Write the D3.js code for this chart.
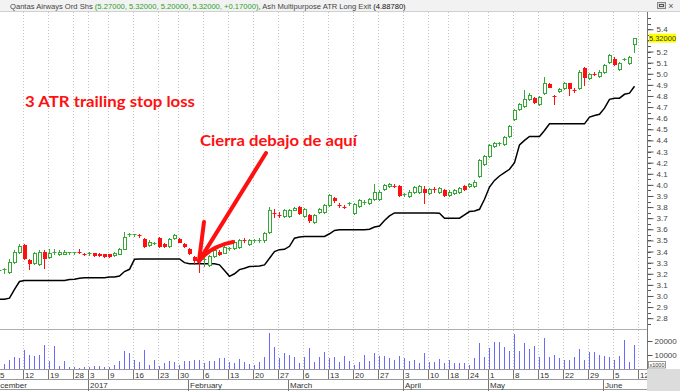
<!DOCTYPE html>
<html>
<head>
<meta charset="utf-8">
<script src="https://cdn.jsdelivr.net/npm/d3@7"></script>
<style>
  body { margin: 0; background: #fff; }
  svg { display: block; font-family: "Liberation Sans", Arial, sans-serif; }
</style>
</head>
<body>
<div id="chart"></div>
<script>
// trading days shown on the chart
const dates = [
  "2016-12-05","2016-12-06","2016-12-07","2016-12-08","2016-12-09","2016-12-12","2016-12-13","2016-12-14","2016-12-15","2016-12-16",
  "2016-12-19","2016-12-20","2016-12-21","2016-12-22","2016-12-23","2016-12-28","2016-12-29","2016-12-30",
  "2017-01-03","2017-01-04","2017-01-05","2017-01-06","2017-01-09","2017-01-10","2017-01-11","2017-01-12","2017-01-13",
  "2017-01-16","2017-01-17","2017-01-18","2017-01-19","2017-01-20","2017-01-23","2017-01-24","2017-01-25","2017-01-27","2017-01-30","2017-01-31",
  "2017-02-01","2017-02-02","2017-02-03","2017-02-06","2017-02-07","2017-02-08","2017-02-09","2017-02-10","2017-02-13","2017-02-14",
  "2017-02-15","2017-02-16","2017-02-17","2017-02-20","2017-02-21","2017-02-22","2017-02-23","2017-02-24","2017-02-27","2017-02-28",
  "2017-03-01","2017-03-02","2017-03-03","2017-03-06","2017-03-07","2017-03-08","2017-03-09","2017-03-10","2017-03-13","2017-03-14",
  "2017-03-15","2017-03-16","2017-03-17","2017-03-20","2017-03-21","2017-03-22","2017-03-23","2017-03-24","2017-03-27","2017-03-28",
  "2017-03-29","2017-03-30","2017-03-31","2017-04-03","2017-04-04","2017-04-05","2017-04-06","2017-04-07","2017-04-10","2017-04-11",
  "2017-04-12","2017-04-13","2017-04-18","2017-04-19","2017-04-20","2017-04-21","2017-04-24","2017-04-26","2017-04-27","2017-04-28",
  "2017-05-01","2017-05-02","2017-05-03","2017-05-04","2017-05-05","2017-05-08","2017-05-09","2017-05-10","2017-05-11","2017-05-12",
  "2017-05-15","2017-05-16","2017-05-17","2017-05-18","2017-05-19","2017-05-22","2017-05-23","2017-05-24","2017-05-25","2017-05-26",
  "2017-05-29","2017-05-30","2017-05-31","2017-06-01","2017-06-02","2017-06-05","2017-06-06","2017-06-07","2017-06-08","2017-06-09"
];

const openP = [3.22,3.23,3.22,3.31,3.40,3.46,3.32,3.30,3.29,3.40, 3.35,3.395,3.38,3.38,3.39,3.39,3.41,3.39,
  3.38,3.39,3.38,3.375,3.38,3.37,3.38,3.42,3.55, 3.55,3.555,3.51,3.46,3.475,3.52,3.47,3.45,3.52,3.51,3.47,
  3.42,3.35,3.345,3.32,3.28,3.36,3.40,3.39,3.42,3.43, 3.44,3.505,3.47,3.50,3.50,3.50,3.58,3.755,3.735,3.72,
  3.72,3.775,3.80,3.72,3.73,3.67,3.76,3.76,3.82,3.88, 3.825,3.805,3.83,3.75,3.81,3.84,3.84,3.87,3.87,3.96,
  3.99,4.00,3.99,3.91,3.90,3.94,3.94,3.96,3.93,3.965, 3.94,3.95,3.91,3.93,3.94,3.99,3.99,3.99,4.08,4.19,
  4.26,4.35,4.37,4.37,4.44,4.59,4.68,4.71,4.77,4.78, 4.73,4.83,4.91,4.81,4.845,4.87,4.915,4.86,4.87,5.05,
  4.96,5.005,4.98,5.02,5.11,5.13,5.04,5.125,5.10,5.27];
const highP = [3.25,3.25,3.33,3.41,3.47,3.47,3.33,3.40,3.41,3.41, 3.42,3.42,3.41,3.41,3.40,3.40,3.42,3.39,
  3.40,3.39,3.385,3.38,3.38,3.40,3.43,3.58,3.57, 3.56,3.56,3.52,3.50,3.49,3.53,3.48,3.52,3.56,3.52,3.48,
  3.43,3.36,3.35,3.36,3.37,3.42,3.41,3.45,3.44,3.50, 3.51,3.52,3.51,3.51,3.52,3.58,3.80,3.78,3.76,3.78,
  3.78,3.80,3.81,3.79,3.74,3.74,3.79,3.83,3.92,3.89, 3.84,3.82,3.85,3.84,3.87,3.86,3.88,4.01,3.95,4.01,
  4.02,4.01,4.00,3.93,3.95,3.99,4.00,3.99,3.97,3.98, 3.98,3.96,3.95,3.96,3.98,4.00,4.02,4.04,4.23,4.27,
  4.37,4.39,4.39,4.44,4.54,4.68,4.74,4.85,4.83,4.79, 4.80,4.97,4.92,4.81,4.87,4.93,4.92,4.87,5.03,5.06,
  5.01,5.02,5.03,5.09,5.18,5.15,5.11,5.14,5.16,5.32];
const lowP = [3.20,3.21,3.21,3.30,3.39,3.33,3.24,3.29,3.28,3.25, 3.34,3.38,3.37,3.38,3.38,3.38,3.39,3.37,
  3.37,3.36,3.36,3.355,3.35,3.36,3.38,3.42,3.54, 3.54,3.53,3.44,3.45,3.47,3.44,3.44,3.44,3.51,3.485,3.44,
  3.38,3.29,3.22,3.27,3.27,3.35,3.37,3.39,3.41,3.42, 3.43,3.49,3.46,3.49,3.49,3.49,3.57,3.71,3.71,3.71,
  3.71,3.77,3.74,3.71,3.67,3.66,3.75,3.75,3.81,3.85, 3.80,3.79,3.82,3.74,3.80,3.83,3.83,3.86,3.86,3.95,
  3.98,3.98,3.90,3.90,3.89,3.93,3.93,3.84,3.92,3.94, 3.93,3.90,3.90,3.92,3.93,3.95,3.98,3.98,4.07,4.18,
  4.25,4.34,4.36,4.36,4.43,4.58,4.67,4.70,4.76,4.74, 4.72,4.82,4.88,4.73,4.84,4.86,4.81,4.84,4.86,4.90,
  4.95,4.99,4.97,5.01,5.10,5.08,5.03,5.12,5.09,5.20];
const closeP = [3.23,3.24,3.31,3.40,3.45,3.34,3.30,3.39,3.40,3.34, 3.39,3.40,3.40,3.40,3.395,3.395,3.40,3.38,
  3.39,3.37,3.365,3.36,3.36,3.39,3.42,3.53,3.56, 3.555,3.55,3.45,3.49,3.48,3.45,3.45,3.51,3.55,3.49,3.45,
  3.39,3.32,3.325,3.33,3.36,3.41,3.375,3.44,3.43,3.49, 3.50,3.50,3.50,3.505,3.505,3.57,3.77,3.745,3.73,3.77,
  3.77,3.79,3.75,3.78,3.68,3.73,3.78,3.82,3.91,3.86, 3.82,3.80,3.835,3.83,3.86,3.85,3.87,3.94,3.94,4.00,
  4.01,3.99,3.91,3.92,3.94,3.98,3.99,3.94,3.96,3.96, 3.97,3.91,3.94,3.95,3.97,3.96,4.01,4.03,4.22,4.26,
  4.36,4.38,4.375,4.43,4.53,4.67,4.73,4.77,4.81,4.75, 4.79,4.92,4.885,4.80,4.86,4.92,4.87,4.855,5.02,4.975,
  5.00,5.00,5.02,5.08,5.17,5.09,5.10,5.13,5.15,5.32];
// volume in thousands of shares (axis shows x1000)
const volume = [5000,3600,6400,8600,7800,13600,10000,9300,10000,17400, 5500,16500,2400,5500,1700,1200,800,1700,
  1700,2100,2400,1700,1700,3100,6000,13000,11200, 6400,5200,13600,3100,6700,2400,4300,6000,4800,3100,6000,
  6000,6400,6700,4000,6000,5500,7600,7800,4800,4300, 7100,5200,3600,3100,4800,8800,26000,16000,7600,11200,
  10000,8800,4300,8600,15000,4800,8600,12400,7600,8600, 4800,9500,6000,3100,5200,10200,6000,11500,9000,9000,
  7800,6700,9000,7800,5500,6700,4300,11700,4800,4800, 7100,4000,6400,4300,4000,4000,3100,7800,18300,8800,
  14800,19000,19000,16000,13100,25000,12600,18300,14300,16700, 8300,22000,8300,10000,7600,6700,6400,8800,14300,6700,
  11900,12400,10000,9500,8800,6700,9000,21000,4800,17400];
// Ash Multipurpose ATR Long Exit (3 ATR trailing stop)
const atrStop = [2.97,2.97,2.98,3.06,3.13,3.14,3.14,3.14,3.14,3.14, 3.14,3.14,3.14,3.14,3.148,3.15,3.16,3.165,
  3.165,3.165,3.165,3.165,3.17,3.17,3.18,3.22,3.24, 3.33,3.333,3.333,3.333,3.333,3.333,3.333,3.333,3.333,3.333,3.30,
  3.29,3.29,3.29,3.29,3.29,3.29,3.28,3.23,3.177,3.20, 3.237,3.25,3.265,3.267,3.27,3.28,3.34,3.40,3.417,3.42,
  3.447,3.52,3.531,3.535,3.535,3.535,3.535,3.535,3.56,3.59, 3.595,3.595,3.595,3.595,3.595,3.595,3.60,3.62,3.63,3.68,
  3.72,3.747,3.747,3.747,3.747,3.747,3.747,3.747,3.747,3.747, 3.745,3.70,3.70,3.70,3.70,3.73,3.76,3.765,3.78,3.87,
  3.98,4.04,4.08,4.11,4.14,4.20,4.36,4.40,4.435,4.435, 4.435,4.49,4.549,4.549,4.549,4.549,4.549,4.549,4.549,4.549,
  4.61,4.625,4.635,4.69,4.77,4.78,4.78,4.815,4.825,4.888];

const priceTicks = [2.8,2.9,3.0,3.1,3.2,3.3,3.4,3.5,3.6,3.7,3.8,3.9,4.0,4.1,4.2,4.3,4.4,4.5,4.6,4.7,4.8,4.9,5.0,5.1,5.2,5.3,5.4];
const volumeTicks = [10000, 20000];
const weekTicks = ["2016-12-05","2016-12-12","2016-12-19","2016-12-28","2017-01-03","2017-01-09","2017-01-16","2017-01-23",
  "2017-01-30","2017-02-06","2017-02-13","2017-02-20","2017-02-27","2017-03-06","2017-03-13","2017-03-20","2017-03-27",
  "2017-04-03","2017-04-10","2017-04-18","2017-04-24","2017-05-01","2017-05-08","2017-05-15","2017-05-22","2017-05-29",
  "2017-06-05","2017-06-12"];
const monthStarts = ["2016-12-01","2017-01-03","2017-02-01","2017-03-01","2017-04-03","2017-05-01","2017-06-01"];
const monthNames = ["December","2017","February","March","April","May","June"];

const W = 680, H = 391;
const GREEN = "#35a835", RED = "#ff1010";
const plotRight = 647;
const lastClose = closeP[closeP.length - 1];

const svg = d3.select("#chart").append("svg").attr("width", W).attr("height", H);
svg.append("rect").attr("width", W).attr("height", H).attr("fill", "#fff");

// axis slots include the days before/after the data
const slots = ["2016-12-01", "2016-12-02"].concat(dates, ["2017-06-12"]);
const x = d3.scalePoint().domain(slots).range([-11, 639]);
const y = d3.scaleLinear().domain([2.8, 5.4]).range([318.2, 29.3]);
const yv = d3.scaleLinear().domain([0, 20000]).range([369, 341]);

const bars = dates.map((d, i) => ({ d, o: openP[i], h: highP[i], l: lowP[i], c: closeP[i], v: volume[i], s: atrStop[i] }));

const defs = svg.append("defs");
defs.append("clipPath").attr("id", "clip")
  .append("rect").attr("x", 0).attr("y", 12).attr("width", plotRight).attr("height", 357);
defs.append("clipPath").attr("id", "clipx")
  .append("rect").attr("x", 0).attr("y", 369).attr("width", plotRight).attr("height", 22);

// header
svg.append("rect").attr("x", 0).attr("y", 0).attr("width", W).attr("height", 11).attr("fill", "#f2f2f2");
svg.append("line").attr("x1", 0).attr("x2", W).attr("y1", 11.5).attr("y2", 11.5).attr("stroke", "#d0d0d0");
const title = svg.append("text").attr("x", 10).attr("y", 8.5).attr("font-size", 7.6);
title.append("tspan").attr("fill", "#444").text("Qantas Airways Ord Shs ");
title.append("tspan").attr("fill", "#2aa02a").text("(5.27000, 5.32000, 5.20000, 5.32000, +0.17000)");
title.append("tspan").attr("fill", "#444").text(", Ash Multipurpose ATR Long Exit ");
title.append("tspan").attr("fill", "#111").text("(4.88780)");
// window buttons
svg.append("rect").attr("x", 657.5).attr("y", 2.5).attr("width", 8).attr("height", 6).attr("fill", "#ddd").attr("stroke", "#888");
svg.append("rect").attr("x", 659.5).attr("y", 4.5).attr("width", 4).attr("height", 2).attr("fill", "none").attr("stroke", "#555");
svg.append("text").attr("x", 671).attr("y", 9).attr("font-size", 9).attr("text-anchor", "middle").attr("fill", "#555").text("×");

// grid
const grid = svg.append("g").attr("clip-path", "url(#clip)");
grid.selectAll("line").data(weekTicks).enter().append("line")
  .attr("x1", d => x(d) - 0.5).attr("x2", d => x(d) - 0.5)
  .attr("y1", 12).attr("y2", 369)
  .attr("stroke", "#c4c4c4").attr("stroke-dasharray", "1,2");

// panel separator
svg.append("line").attr("x1", 0).attr("x2", plotRight).attr("y1", 329.5).attr("y2", 329.5).attr("stroke", "#b0b0b0");

const plot = svg.append("g").attr("clip-path", "url(#clip)");

// volume
plot.selectAll(".vol").data(bars).enter().append("line").attr("class", "vol")
  .attr("x1", d => x(d.d) + 0.5).attr("x2", d => x(d.d) + 0.5)
  .attr("y1", yv(0)).attr("y2", d => Math.round(yv(d.v)))
  .attr("stroke", "#6a6aff");

// ATR stop line
plot.append("path").datum(bars)
  .attr("d", d3.line().x(d => x(d.d) + 0.5).y(d => y(d.s)))
  .attr("fill", "none").attr("stroke", "#000").attr("stroke-width", 1.5);

// candles
const candle = plot.selectAll(".candle").data(bars).enter().append("g").attr("class", "candle");
const col = d => d.c >= d.o ? GREEN : RED;
candle.append("line")
  .attr("x1", d => x(d.d) + 0.5).attr("x2", d => x(d.d) + 0.5)
  .attr("y1", d => Math.round(y(d.h))).attr("y2", d => Math.round(y(d.l)) + 1)
  .attr("stroke", col);
candle.filter(d => Math.abs(y(d.o) - y(d.c)) >= 1.5).append("rect")
  .attr("x", d => x(d.d) - 0.5)
  .attr("y", d => Math.round(y(Math.max(d.o, d.c))) + 0.5)
  .attr("width", 3)
  .attr("height", d => Math.max(1, Math.round(y(Math.min(d.o, d.c))) - Math.round(y(Math.max(d.o, d.c)))))
  .attr("fill", d => d.c >= d.o ? "#fff" : RED)
  .attr("stroke", col);
candle.filter(d => Math.abs(y(d.o) - y(d.c)) < 1.5).append("line")
  .attr("x1", d => x(d.d) - 1.5).attr("x2", d => x(d.d) + 2.5)
  .attr("y1", d => Math.round(y(d.c)) + 0.5).attr("y2", d => Math.round(y(d.c)) + 0.5)
  .attr("stroke", col);

// right axes
svg.append("line").attr("x1", plotRight + 0.5).attr("x2", plotRight + 0.5).attr("y1", 12).attr("y2", 369).attr("stroke", "#777");
const minor = d3.range(55, 111).map(v => v / 20);
svg.append("g").selectAll("line").data(minor).enter().append("line")
  .attr("x1", plotRight + 1).attr("x2", plotRight + 4)
  .attr("y1", d => Math.round(y(d)) + 0.5).attr("y2", d => Math.round(y(d)) + 0.5)
  .attr("stroke", "#555");
const ya = svg.append("g").attr("transform", `translate(${plotRight + 0.5},0)`)
  .call(d3.axisRight(y).tickValues(priceTicks).tickSize(6).tickPadding(3).tickFormat(d3.format(".1f")));
ya.select(".domain").remove();
ya.selectAll("line").attr("stroke", "#555");
ya.selectAll("text").attr("font-size", 8).attr("fill", "#444").attr("font-family", "Liberation Sans, Arial, sans-serif");
// the last-price flag sits over the 5.3 label
ya.selectAll(".tick").filter(d => Math.abs(d - lastClose) < 0.05).select("text").remove();

const va = svg.append("g").attr("transform", `translate(${plotRight + 0.5},0)`)
  .call(d3.axisRight(yv).tickValues(volumeTicks).tickSize(5).tickPadding(2).tickFormat(d3.format("d")));
va.select(".domain").remove();
va.selectAll("line").attr("stroke", "#555");
va.selectAll("text").attr("font-size", 8).attr("fill", "#444").attr("font-family", "Liberation Sans, Arial, sans-serif");
svg.append("rect").attr("x", 648.5).attr("y", 361.5).attr("width", 17).attr("height", 6.5).attr("fill", "#fff").attr("stroke", "#999");
svg.append("text").attr("x", 657).attr("y", 367).attr("font-size", 5.5).attr("text-anchor", "middle").attr("fill", "#333").text("x1000");

// last price label
const lastY = y(lastClose);
svg.append("rect").attr("x", 649).attr("y", lastY - 4.5).attr("width", 27).attr("height", 9).attr("fill", "#ffff00");
svg.append("text").attr("x", 662.5).attr("y", lastY + 3).attr("font-size", 7.5).attr("text-anchor", "middle").attr("fill", "#333").text(lastClose.toFixed(5));

// date axis
const dx = svg.append("g");
dx.append("rect").attr("x", 0).attr("y", 369).attr("width", W).attr("height", 22).attr("fill", "#fff");
dx.append("rect").attr("x", plotRight).attr("y", 369).attr("width", W - plotRight).attr("height", 22).attr("fill", "#dcdcdc");
[369.5, 379.5, 389.5].forEach(v => dx.append("line").attr("x1", 0).attr("x2", plotRight).attr("y1", v).attr("y2", v).attr("stroke", "#999"));
const dclip = dx.append("g").attr("clip-path", "url(#clipx)");
dclip.selectAll(".wk").data(weekTicks).enter().append("line").attr("class", "wk")
  .attr("x1", d => x(d) - 0.5).attr("x2", d => x(d) - 0.5).attr("y1", 370).attr("y2", 379)
  .attr("stroke", "#777");
dclip.selectAll(".wkl").data(weekTicks).enter().append("text").attr("class", "wkl")
  .attr("x", d => x(d) + 1).attr("y", 377.5).attr("font-size", 8).attr("fill", "#333")
  .text(d => +d.slice(8));
dclip.selectAll(".mo").data(monthStarts).enter().append("line").attr("class", "mo")
  .attr("x1", d => x(d) - 0.5).attr("x2", d => x(d) - 0.5).attr("y1", 380).attr("y2", 391)
  .attr("stroke", "#777");
dclip.selectAll(".mol").data(monthStarts).enter().append("text").attr("class", "mol")
  .attr("x", d => x(d) + 1).attr("y", 387.5).attr("font-size", 8).attr("fill", "#333")
  .text((d, i) => monthNames[i]);

// annotations
const note = svg.append("g").attr("fill", RED).attr("font-family", "Lato, 'Open Sans', sans-serif").attr("font-weight", "bold");
note.append("text").attr("x", 25).attr("y", 107).attr("font-size", 16).attr("textLength", 170).attr("lengthAdjust", "spacingAndGlyphs").text("3 ATR trailing stop loss");
note.append("text").attr("x", 200).attr("y", 146).attr("font-size", 16).attr("textLength", 157).attr("lengthAdjust", "spacingAndGlyphs").text("Cierra debajo de aquí");
const arrow = svg.append("g").attr("fill", "none").attr("stroke", RED).attr("stroke-width", 4).attr("stroke-linecap", "round").attr("stroke-linejoin", "round");
arrow.append("path").attr("d", "M266,153 L199,261");
arrow.append("path").attr("d", "M199,261 L204,222");
arrow.append("path").attr("d", "M199,261 Q211,246 233,242");
</script>
</body>
</html>
